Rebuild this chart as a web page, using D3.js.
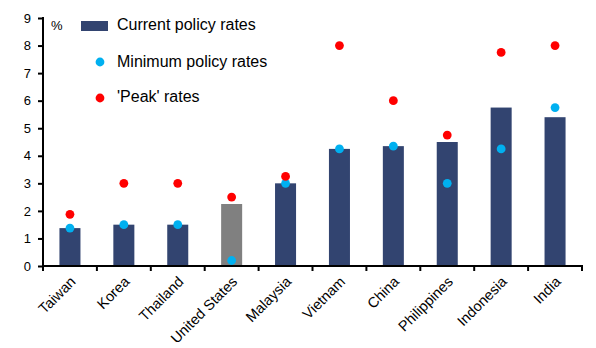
<!DOCTYPE html>
<html>
<head>
<meta charset="utf-8">
<script src="https://cdn.jsdelivr.net/npm/d3@7"></script>
<style>
  body { margin: 0; background: #fff; }
  svg { font-family: "Liberation Sans", Arial, sans-serif; }
</style>
</head>
<body>
<div id="chart"></div>
<script>
var countries = ["Taiwan", "Korea", "Thailand", "United States", "Malaysia",
                 "Vietnam", "China", "Philippines", "Indonesia", "India"];
var currentRates = [1.375, 1.5, 1.5, 2.25, 3.0, 4.25, 4.35, 4.5, 5.75, 5.4];
var minimumRates = [1.375, 1.5, 1.5, 0.2, 3.0, 4.25, 4.35, 3.0, 4.25, 5.75];
var peakRates    = [1.875, 3.0, 3.0, 2.5, 3.25, 8.0, 6.0, 4.75, 7.75, 8.0];
var yTicks = [0, 1, 2, 3, 4, 5, 6, 7, 8, 9];

var width = 596, height = 348;
var margin = {top: 18, right: 14, bottom: 82, left: 43},
    gwidth = width - margin.left - margin.right,
    gheight = height - margin.top - margin.bottom;

var svg = d3.select("#chart").append("svg")
            .attr("width", width)
            .attr("height", height);

var g = svg.append("g")
           .attr("transform", "translate(" + margin.left + "," + margin.top + ")");

var xScale = d3.scaleBand().domain(countries).range([0, gwidth]).paddingInner(0.61).paddingOuter(0.305);
var xBand = d3.scaleBand().domain(countries).range([0, gwidth]);
var yScale = d3.scaleLinear().domain([0, 9]).range([gheight, 0]);

// bars (US shown in grey)
g.selectAll("rect.bar")
 .data(countries)
 .enter()
 .append("rect")
 .attr("class", "bar")
 .attr("x", d => xScale(d))
 .attr("width", xScale.bandwidth())
 .attr("y", (d, i) => yScale(currentRates[i]))
 .attr("height", (d, i) => gheight - yScale(currentRates[i]))
 .style("fill", d => d == "United States" ? "#808080" : "#324470");

// dots
var cx = d => xBand(d) + xBand.bandwidth() / 2;
g.selectAll("circle.min")
 .data(countries)
 .enter()
 .append("circle")
 .attr("cx", cx)
 .attr("cy", (d, i) => yScale(minimumRates[i]))
 .attr("r", 4.4)
 .style("fill", "#00B0F0");

g.selectAll("circle.peak")
 .data(countries)
 .enter()
 .append("circle")
 .attr("cx", cx)
 .attr("cy", (d, i) => yScale(peakRates[i]))
 .attr("r", 4.4)
 .style("fill", "#FF0000");

// y axis
var yAxis = d3.axisLeft(yScale).tickValues(yTicks).tickSize(5).tickPadding(7);
var yg = g.append("g").call(yAxis);
yg.select(".domain").attr("stroke-width", 2).attr("d", "M0," + (gheight + 1) + "V-1");
yg.selectAll(".tick line").attr("stroke-width", 2);
yg.selectAll(".tick text").style("font-size", "13px").style("fill", "#000");

// x axis, ticks between categories
var xg = g.append("g").attr("transform", "translate(0," + gheight + ")");
xg.append("line").attr("x1", -1).attr("x2", gwidth + 1)
  .attr("stroke", "#000").attr("stroke-width", 2);
xg.selectAll("line.tick")
  .data(countries.concat(["end"]))
  .enter()
  .append("line")
  .attr("x1", (d, i) => i * xBand.step())
  .attr("x2", (d, i) => i * xBand.step())
  .attr("y1", 0).attr("y2", 5)
  .attr("stroke", "#000").attr("stroke-width", 2);
xg.selectAll("text")
  .data(countries)
  .enter()
  .append("text")
  .attr("transform", d => "translate(" + (cx(d) + 3) + ",13) rotate(-45)")
  .attr("text-anchor", "end")
  .attr("dy", "0.35em")
  .style("font-size", "14.5px")
  .text(d => d);

// unit label
svg.append("text")
   .attr("x", 51).attr("y", 29.5)
   .style("font-size", "13px")
   .text("%");

// legend
var legend = svg.append("g");
legend.append("rect").attr("x", 81).attr("y", 21).attr("width", 27).attr("height", 10)
      .style("fill", "#324470");
legend.append("circle").attr("cx", 100).attr("cy", 62).attr("r", 4.4).style("fill", "#00B0F0");
legend.append("circle").attr("cx", 100).attr("cy", 98).attr("r", 4.4).style("fill", "#FF0000");
var legendLabels = ["Current policy rates", "Minimum policy rates", "'Peak' rates"];
var legendBase = [30, 67, 102];
legend.selectAll("text")
      .data(legendLabels)
      .enter()
      .append("text")
      .attr("x", 117)
      .attr("y", (d, i) => legendBase[i])
      .style("font-size", "16px")
      .text(d => d);
</script>
</body>
</html>
